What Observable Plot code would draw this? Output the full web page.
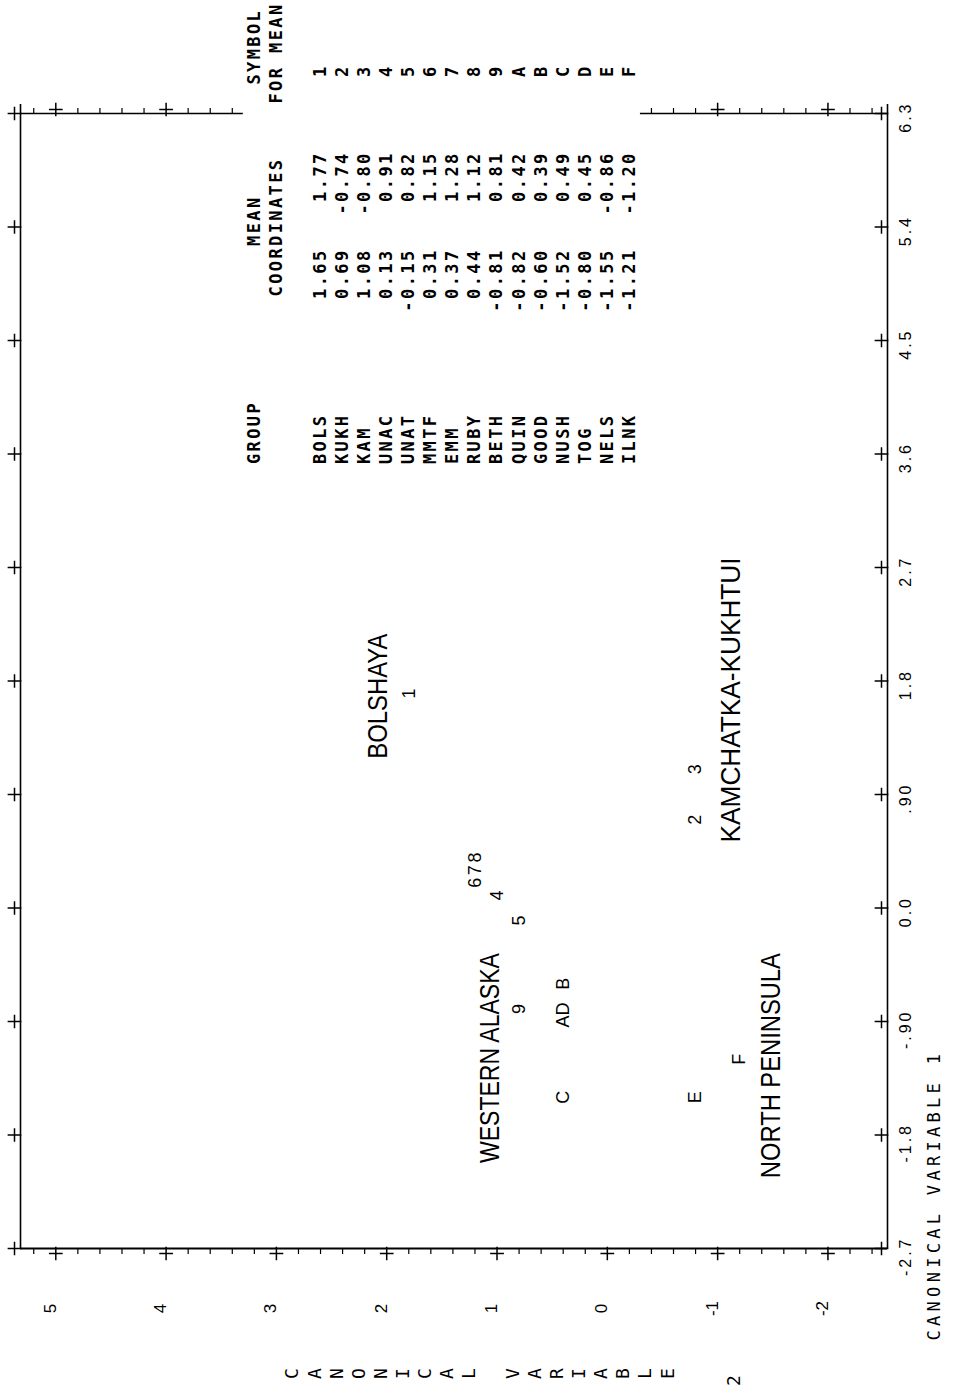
<!DOCTYPE html>
<html><head><meta charset="utf-8">
<script src="https://cdn.jsdelivr.net/npm/d3@7"></script>
<script src="https://cdn.jsdelivr.net/npm/@observablehq/plot@0.6"></script>
<style>
html,body{margin:0;padding:0;background:#fff;}
#chart svg{display:block;}
g[aria-description="legend"] text{letter-spacing:2.4px;}
g[aria-description="cv1-labels"] text{letter-spacing:3px;}
g[aria-description="axis-title"] text{letter-spacing:4.3px;}
</style></head>
<body><div id="chart"></div>
<script>
// ---- data ----
const groups  = ["BOLS","KUKH","KAM","UNAC","UNAT","MMTF","EMM","RUBY","BETH","QUIN","GOOD","NUSH","TOG","NELS","ILNK"];
const symbols = ["1","2","3","4","5","6","7","8","9","A","B","C","D","E","F"];
const canon1  = [1.65,0.69,1.08,0.13,-0.15,0.31,0.37,0.44,-0.81,-0.82,-0.60,-1.52,-0.80,-1.55,-1.21];
const canon2  = [1.77,-0.74,-0.80,0.91,0.82,1.15,1.28,1.12,0.81,0.42,0.39,0.49,0.45,-0.86,-1.20];
const cv1Ticks = [-2.7,-1.8,-0.9,0,0.9,1.8,2.7,3.6,4.5,5.4,6.3];
const cv1TickLabels = ["-2.7","-1.8","-.90","0.0",".90","1.8","2.7","3.6","4.5","5.4","6.3"];
const cv2Ticks = [-2,-1,0,1,2,3,4,5];
const cv2TickLabels = ["-2","-1","0","1","2","3","4","5"];
const regionNames = ["BOLSHAYA","WESTERN ALASKA","KAMCHATKA-KUKHTUI","NORTH PENINSULA"];
const regionCV1 = [1.68,-1.19,1.65,-1.25];
const regionCV2 = [2.08,1.06,-1.12,-1.48];

// ---- styles / layout helpers ----
const regionTextLength = [125, 210, 285, 225];   // hand-lettered labels are condensed
const xDomain = [5.32, -2.54];   // canonical variable 2 (frame left/right)
const yDomain = [-2.7, 6.3];     // canonical variable 1
const LINE = 0.2, COL = 0.1;     // printer grid
const topGap = [3.3, -0.3];      // gap in the top border for the legend

// snap symbols to printer grid, push colliding symbols down
const pts = groups.map((g,i)=>({g, s:symbols[i], c1:canon1[i], c2:canon2[i], line:Math.round(canon2[i]/LINE)}));
for (const [, arr] of d3.group(pts, d=>d.line)) {
  arr.sort((a,b)=>b.c1-a.c1);
  let prev = Infinity;
  for (const p of arr) { let c = Math.round(p.c1*10); if (c >= prev) c = prev-1; p.col = c; prev = c; }
}
pts.forEach(p=>{p.px = p.line*LINE; p.py = p.col*COL;});

const regions = regionNames.map((t,i)=>({t, x:regionCV2[i], y:regionCV1[i]}));
const legendRows = groups.map((g,i)=>({g, s:symbols[i], a:canon1[i].toFixed(2), b:canon2[i].toFixed(2), line:2.6 - LINE*i}));
const inTopBorder = v => v >= topGap[0] || v <= topGap[1];
const minor = d3.range(-12, 27).map(k=>k*0.2).filter(v=>Math.abs(v-Math.round(v))>1e-6 && v>xDomain[1] && v<xDomain[0]);
const ylabel = "CANONICAL VARIABLE".split("");

const mono = "DejaVu Sans Mono";
const sans = "Liberation Sans";
const txt = {rotate:-90, fill:"black"};
const leg = {...txt, fontFamily:mono, fontSize:17, fontWeight:"bold", ariaDescription:"legend"};

const plot = Plot.plot({
  width: 978, height: 1391,
  marginLeft: 20, marginRight: 91, marginTop: 113, marginBottom: 143,
  x: {domain: xDomain, axis: null},
  y: {domain: yDomain, axis: null},
  style: {background:"white", overflow:"visible"},
  marks: [
    // frame
    Plot.ruleX(xDomain, {stroke:"black", strokeWidth:1.6, insetTop:-9}),
    Plot.ruleY([yDomain[0]], {stroke:"black", strokeWidth:2}),
    Plot.ruleY([{x1:xDomain[0], x2:topGap[0]}, {x1:topGap[1], x2:xDomain[1]}], {x1:"x1", x2:"x2", y:()=>yDomain[1], stroke:"black", strokeWidth:1.6}),
    // minor ticks
    Plot.axisX({anchor:"top", ticks: minor.filter(inTopBorder), tickSize:6, tickFormat:()=>"", label:null, strokeWidth:1.2}),
    Plot.axisX({anchor:"bottom", ticks: minor, tickSize:6, tickFormat:()=>"", label:null, strokeWidth:1.2}),
    // major "+" ticks
    Plot.dot(cv2Ticks.filter(inTopBorder), {x:d=>d, frameAnchor:"top", dy:-4, symbol:"plus", r:4.5, stroke:"black", strokeWidth:1.5}),
    Plot.dot(cv2Ticks, {x:d=>d, frameAnchor:"bottom", dy:5, symbol:"plus", r:4.5, stroke:"black", strokeWidth:1.5}),
    Plot.dot(cv1Ticks, {y:d=>d, frameAnchor:"left", dx:-6, symbol:"plus", r:4.5, stroke:"black", strokeWidth:1.5}),
    Plot.dot(cv1Ticks, {y:d=>d, frameAnchor:"right", dx:-6, symbol:"plus", r:4.5, stroke:"black", strokeWidth:1.5}),
    // tick labels
    Plot.text(cv1Ticks, {...txt, y:d=>d, text:(d,i)=>cv1TickLabels[i], frameAnchor:"right", dx:18, dy:-12, fontFamily:sans, fontSize:16, ariaDescription:"cv1-labels"}),
    Plot.text(cv2Ticks, {...txt, x:d=>d, text:(d,i)=>cv2TickLabels[i], frameAnchor:"bottom", dy:60, fontFamily:sans, fontSize:17}),
    // axis titles
    Plot.text(["CANONICAL VARIABLE 1"], {...txt, frameAnchor:"bottom-right", dx:52, dy:92, textAnchor:"start", fontFamily:mono, fontSize:17, ariaDescription:"axis-title"}),
    Plot.text(ylabel, {...txt, x:(d,i)=>2.8 - LINE*i, text:d=>d, frameAnchor:"bottom", dy:125, fontFamily:mono, fontSize:18}),
    Plot.text(["2"], {...txt, x:()=>-1.2, frameAnchor:"bottom", dy:132, fontFamily:mono, fontSize:18}),
    // legend table
    Plot.text(["GROUP"], {...leg, x:()=>3.2, y:()=>3.52, textAnchor:"start"}),
    Plot.text(["MEAN"], {...leg, x:()=>3.2, y:()=>5.45}),
    Plot.text(["COORDINATES"], {...leg, x:()=>3.0, y:()=>5.40}),
    Plot.text(["SYMBOL"], {...leg, x:()=>3.2, y:()=>6.83}),
    Plot.text(["FOR MEAN"], {...leg, x:()=>3.0, y:()=>6.78}),
    Plot.text(legendRows, {...leg, x:"line", y:()=>3.52, text:"g", textAnchor:"start"}),
    Plot.text(legendRows, {...leg, x:"line", y:()=>5.23, text:"a", textAnchor:"end"}),
    Plot.text(legendRows, {...leg, x:"line", y:()=>6.0, text:"b", textAnchor:"end"}),
    Plot.text(legendRows, {...leg, x:"line", y:()=>6.64, text:"s"}),
    // group mean symbols
    Plot.text(pts, {...txt, x:"px", y:"py", text:"s", fontFamily:sans, fontSize:18}),
    // region annotations
    Plot.text(regions, {...txt, x:"x", y:"y", text:"t", fontFamily:sans, fontSize:28, ariaDescription:"regions"})
  ]
});
document.getElementById("chart").appendChild(plot);
plot.querySelectorAll('g[aria-description="regions"] text').forEach((el,i)=>{
  el.setAttribute("textLength", regionTextLength[i]);
  el.setAttribute("lengthAdjust", "spacingAndGlyphs");
});
</script>
</body></html>
